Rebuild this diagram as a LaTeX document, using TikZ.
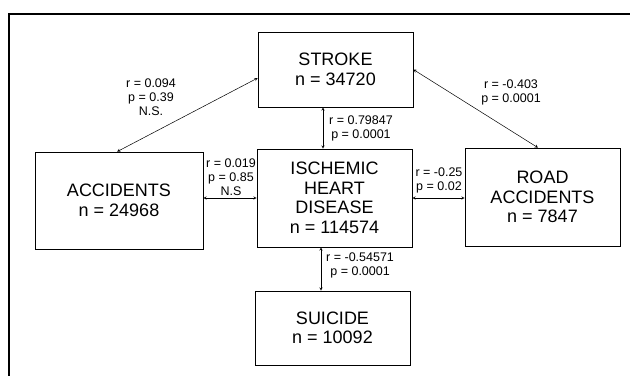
\documentclass[tikz,border=0pt]{standalone}
\usepackage{fontspec}
\setmainfont{Liberation Sans}
\usetikzlibrary{calc}
\begin{document}
\begin{tikzpicture}[x=1pt, y=-1pt, >=stealth,
    box/.style={draw, line width=0.6pt, align=center, inner sep=0pt, font=\fontsize{18}{19.5}\selectfont},
    stat/.style={align=center, inner sep=0pt, font=\fontsize{12.5}{14}\selectfont},
    link/.style={<->, line width=0.5pt}]
    \useasboundingbox (0,0) rectangle (630,376);
    \draw[line width=1.3pt] (630,14) -- (9,14) -- (9,376);
    % boxes
    \node[box, minimum width=155pt, minimum height=75pt] (stroke) at (335.5,69.5) {STROKE\\n = 34720};
    \node[box, minimum width=168pt, minimum height=97pt] (acc) at (119,200.5) {ACCIDENTS\\n = 24968};
    \node[box, minimum width=155pt, minimum height=98pt] (ihd) at (334.5,198) {ISCHEMIC\\HEART\\DISEASE\\n = 114574};
    \node[box, minimum width=155pt, minimum height=98pt] (road) at (542.5,197) {ROAD\\ACCIDENTS\\n = 7847};
    \node[box, minimum width=155pt, minimum height=74pt] (suicide) at (332.5,328) {SUICIDE\\n = 10092};
    % links
    \draw[link] ([yshift=-8.5pt]stroke.west) -- ([xshift=-2pt]acc.north);
    \draw[link] (stroke.east) -- ([xshift=-4.5pt]road.north);
    \draw[link] ([xshift=-12.5pt]stroke.south) -- ([xshift=-12.5pt]stroke.south |- ihd.north);
    \draw[link] ([xshift=-13.5pt]ihd.south) -- ([xshift=-13.5pt]ihd.south |- suicide.north);
    \draw[link] (ihd.west) -- (ihd.west -| acc.east);
    \draw[link] (ihd.east) -- (ihd.east -| road.west);
    % statistics
    \node[stat] (s1) at (151,97) {r = 0.094\\p = 0.39\\N.S.};
    \node[stat] (s2) at (511,92) {r = -0.403\\p = 0.0001};
    \node[stat, anchor=west] (s3) at (329,128) {r = 0.79847\\p = 0.0001};
    \node[stat] (s4) at (231,177) {r = 0.019\\p = 0.85\\N.S};
    \node[stat] (s5) at (439,180) {r = -0.25\\p = 0.02};
    \node[stat, anchor=west] (s6) at (326,265) {r = -0.54571\\p = 0.0001};
\end{tikzpicture}
\end{document}
